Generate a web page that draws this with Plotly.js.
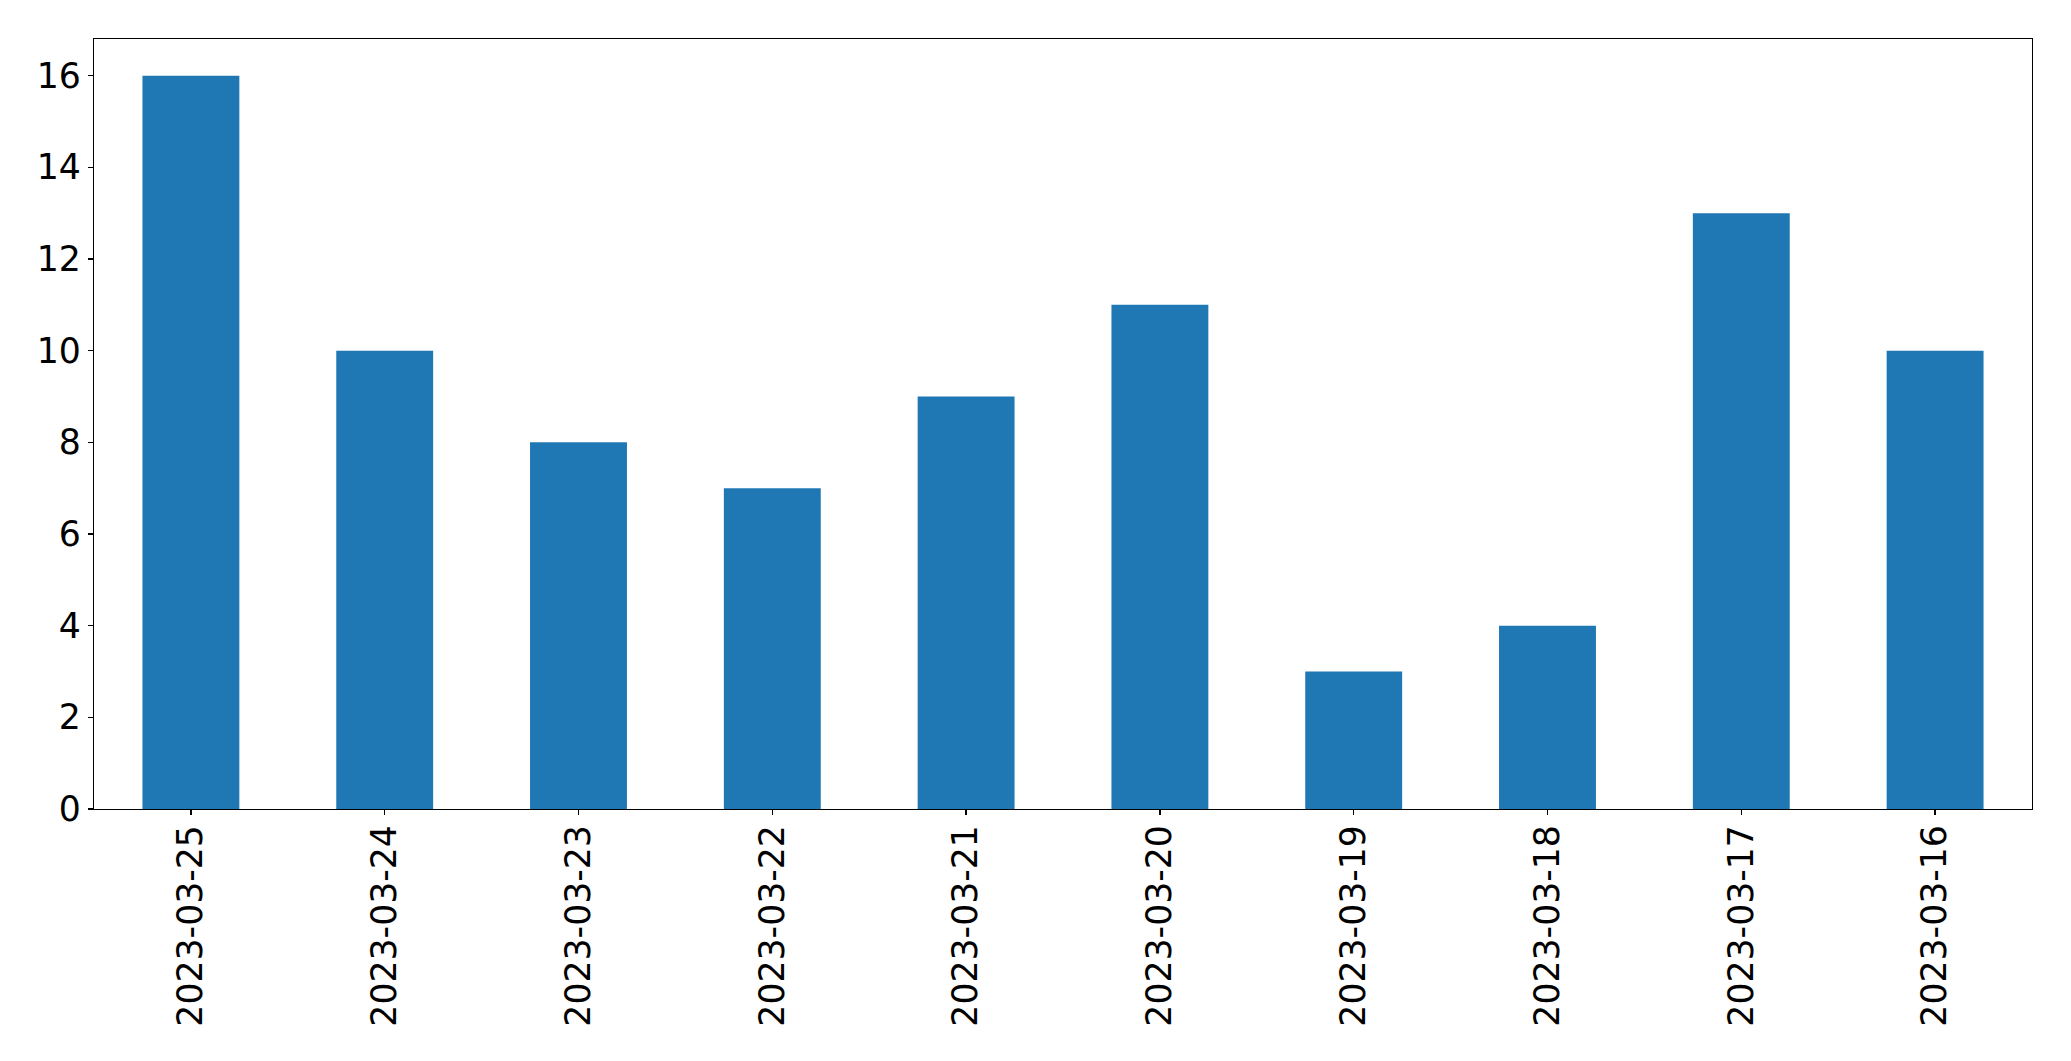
<!DOCTYPE html>
<html>
<head>
<meta charset="utf-8">
<script src="https://cdn.plot.ly/plotly-3.0.1.min.js"></script>
<style>
  html, body { margin: 0; padding: 0; background: #fff; }
  #chart { width: 2071px; height: 1061px; }
</style>
</head>
<body>
<div id="chart"></div>
<script>
// Daten
const dates = ['2023-03-25', '2023-03-24', '2023-03-23', '2023-03-22', '2023-03-21',
               '2023-03-20', '2023-03-19', '2023-03-18', '2023-03-17', '2023-03-16'];
const counts = [16, 10, 8, 7, 9, 11, 3, 4, 13, 10];
const yTicks = [0, 2, 4, 6, 8, 10, 12, 14, 16];

const axisStyle = {
  showline: true,
  linecolor: '#000',
  linewidth: 1.2,
  mirror: true,
  ticks: 'outside',
  ticklen: 5,
  tickwidth: 1.2,
  tickcolor: '#000',
  showgrid: false,
  zeroline: false,
  tickfont: { family: 'DejaVu Sans', size: 34.7, color: '#000' }
};

const trace = {
  type: 'bar',
  x: dates,
  y: counts,
  width: 0.5,
  marker: { color: '#1f77b4', line: { width: 0 } },
  hoverinfo: 'x+y'
};

const layout = {
  width: 2071,
  height: 1061,
  paper_bgcolor: '#fff',
  plot_bgcolor: '#fff',
  margin: { l: 94, r: 39, t: 39, b: 252 },
  showlegend: false,
  xaxis: Object.assign({}, axisStyle, {
    type: 'category',
    range: [-0.5, 9.5],
    tickangle: -90,
    ticklabelstandoff: -4
  }),
  yaxis: Object.assign({}, axisStyle, {
    range: [0, 16.8],
    tickvals: yTicks,
    ticktext: yTicks.map(String)
  })
};

Plotly.newPlot('chart', [trace], layout, { displayModeBar: false, staticPlot: true });
</script>
</body>
</html>
